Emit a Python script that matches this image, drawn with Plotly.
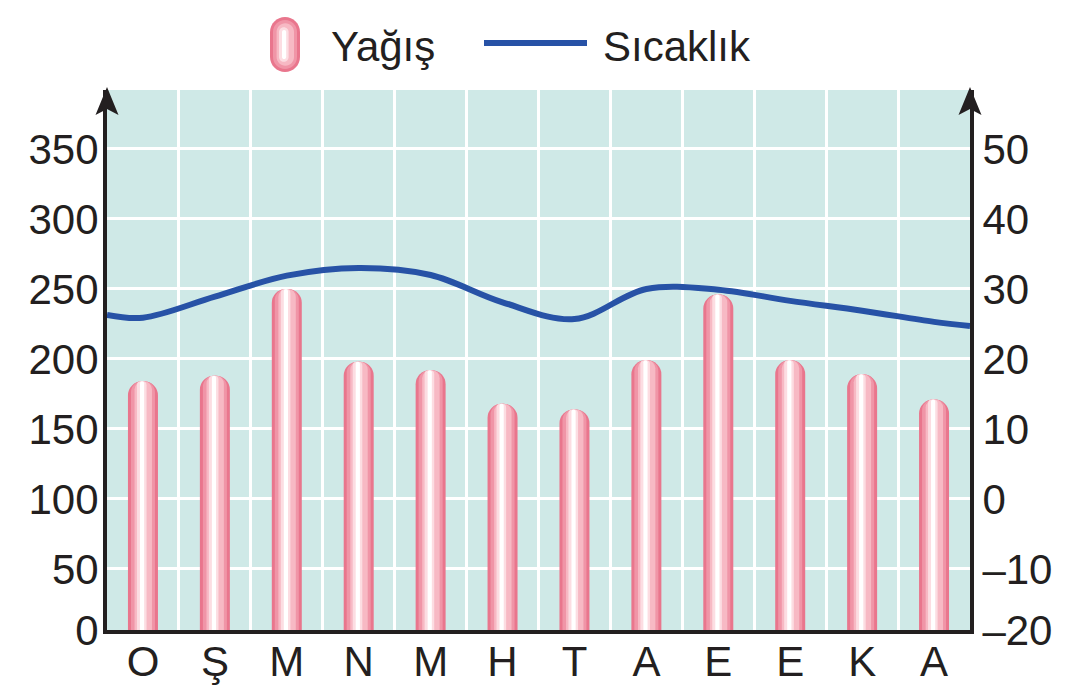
import plotly.graph_objects as go

# months (Turkish initials)
months = ['O', 'Ş', 'M', 'N', 'M', 'H', 'T', 'A', 'E', 'E', 'K', 'A']

# precipitation (mm), left axis
rain = [184, 188, 250, 198, 192, 168, 164, 199, 246, 199, 189, 171]

# temperature (°C), right axis, plus where the curve meets the two axes
temp = [25.9, 28.9, 31.9, 33.0, 32.0, 28.1, 25.7, 30.0, 29.9, 28.3, 26.9, 25.3]
temp_start = 26.3
temp_end = 24.7

left_ticks = [0, 50, 100, 150, 200, 250, 300, 350]
right_ticks = ['–20', '–10', '0', '10', '20', '30', '40', '50']

INK = '#231f20'
BLUE = '#2752a6'
TEAL = '#cfe9e7'
FONT = 'Liberation Sans, Arial, sans-serif'

# the page body adds an 8px margin, so the figure is drawn 8px in
PAD = 8
W, H = 1073 - PAD, 693 - PAD
L, R, T, B = 107 - PAD, 103, 90 - PAD, 63
pw, ph = W - L - R, H - T - B


def px_x(x):
    # page pixel -> paper fraction
    return (x - PAD - L) / pw


def px_y(y):
    return (H - B - (y - PAD)) / ph


xpos = list(range(len(months)))
tx = [-0.5] + xpos + [len(months) - 0.5]
ty = [temp_start] + temp + [temp_end]

# left axis range (grid scale), right axis follows it: right = left / 5 - 20
ylo, yhi = 6.43, 392.1
y2lo, y2hi = ylo / 5 - 20, yhi / 5 - 20
lvals = [ylo] + left_ticks[1:]
rvals = [y2lo] + [v / 5 - 20 for v in left_ticks[1:]]

fig = go.Figure()

# striped capsule bars built from nested layers
bw = 0.417
stripes = [
    (0.00, 1.00, '#e9768d'),
    (0.10, 0.90, '#f095a7'),
    (0.22, 0.80, '#f7b9c4'),
    (0.30, 0.62, '#fcdde2'),
    (0.40, 0.54, '#ffffff'),
]
for a, b, c in stripes:
    fig.add_trace(go.Bar(
        x=xpos, y=rain, width=bw * (b - a), offset=-bw / 2 + bw * a,
        marker=dict(color=c, cornerradius='50%', line=dict(width=0)),
        showlegend=False, hoverinfo='skip'))

fig.add_trace(go.Scatter(
    x=tx, y=ty, yaxis='y2', mode='lines',
    line=dict(color=BLUE, width=6, shape='spline', smoothing=1),
    showlegend=False, cliponaxis=True))

shapes = []

# axis arrow heads
for xa in (0, 1):
    shapes.append(dict(
        type='path', xref='paper', yref='paper',
        xsizemode='pixel', ysizemode='pixel', xanchor=xa, yanchor=1,
        path='M 0,3 L -11.5,-25 L 0,-19 L 11.5,-25 Z',
        fillcolor=INK, line=dict(width=0), layer='above'))


def capsule(w, h, dx=0):
    c = h - w
    k = 0.5523 * w
    return (f'M {dx - w},{-c} L {dx - w},{c} '
            f'C {dx - w},{c + k} {dx - k},{c + w} {dx},{c + w} '
            f'C {dx + k},{c + w} {dx + w},{c + k} {dx + w},{c} '
            f'L {dx + w},{-c} '
            f'C {dx + w},{-c - k} {dx + k},{-c - w} {dx},{-c - w} '
            f'C {dx - k},{-c - w} {dx - w},{-c - k} {dx - w},{-c} Z')


# legend: striped capsule for precipitation
cap_w, cap_h = 30, 55
for a, b, c in stripes:
    w = cap_w * (b - a) / 2
    dx = cap_w * ((a + b) / 2 - 0.5)
    shapes.append(dict(
        type='path', xref='paper', yref='paper',
        xsizemode='pixel', ysizemode='pixel',
        xanchor=px_x(285), yanchor=px_y(44.5),
        path=capsule(w, cap_h / 2 - (cap_w / 2 - w), dx),
        fillcolor=c, line=dict(width=0)))

# legend: temperature line
shapes.append(dict(
    type='line', xref='paper', yref='paper',
    x0=px_x(484), x1=px_x(587), y0=px_y(43), y1=px_y(43),
    line=dict(color=BLUE, width=6)))

annotations = [
    dict(text='Yağış', x=px_x(329), y=px_y(46), xref='paper', yref='paper',
         xanchor='left', yanchor='middle', showarrow=False,
         font=dict(size=42, color=INK, family=FONT)),
    dict(text='Sıcaklık', x=px_x(601), y=px_y(46), xref='paper', yref='paper',
         xanchor='left', yanchor='middle', showarrow=False,
         font=dict(size=42, color=INK, family=FONT)),
]

fig.update_layout(
    width=W, height=H,
    margin=dict(l=L, r=R, t=T, b=B),
    paper_bgcolor='white', plot_bgcolor=TEAL,
    barmode='overlay',
    font=dict(family=FONT, size=42, color=INK),
    shapes=shapes, annotations=annotations,
    xaxis=dict(
        range=[-0.5, len(months) - 0.5], automargin=False,
        tickvals=xpos, ticktext=months, ticks='', ticklabelstandoff=-8,
        showgrid=False, zeroline=False,
        minor=dict(tick0=0.5, dtick=1, showgrid=True,
                   gridcolor='white', gridwidth=3, ticks=''),
        showline=True, linecolor=INK, linewidth=4,
        tickfont=dict(size=42, color=INK)),
    yaxis=dict(
        range=[ylo, yhi], automargin=False,
        tickvals=lvals, ticktext=[str(v) for v in left_ticks],
        ticks='', ticklabelstandoff=-4,
        showgrid=True, gridcolor='white', gridwidth=3,
        zeroline=False, showline=True, linecolor=INK, linewidth=4,
        tickfont=dict(size=42, color=INK)),
    yaxis2=dict(
        range=[y2lo, y2hi], automargin=False,
        tickvals=rvals, ticktext=right_ticks,
        overlaying='y', side='right', ticks='', showgrid=False,
        zeroline=False, showline=True, linecolor=INK, linewidth=4,
        tickfont=dict(size=42, color=INK)),
)

fig.write_html('out.html')
